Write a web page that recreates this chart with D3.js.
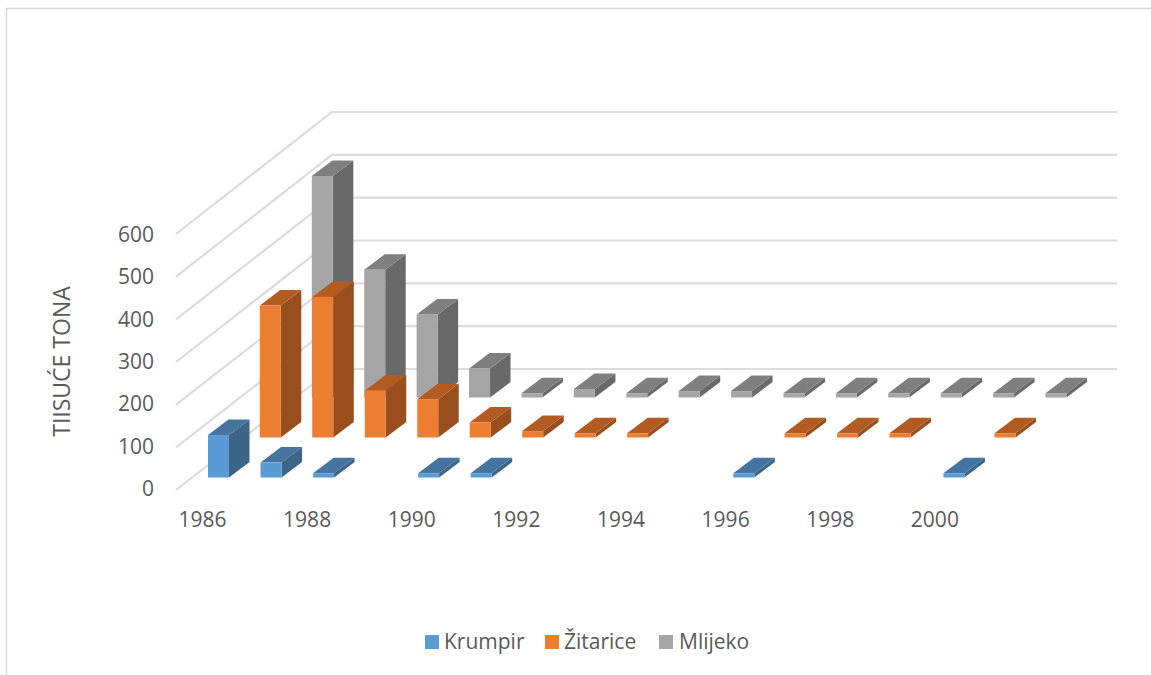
<!DOCTYPE html>
<html>
<head>
<meta charset="utf-8">
<script src="https://cdn.jsdelivr.net/npm/d3@7"></script>
<style>
html,body{margin:0;padding:0;background:#fff;}
svg{display:block;}
text{font-family:"Open Sans",sans-serif;fill:#595959;}
</style>
</head>
<body>
<svg id="chart" width="1151" height="675"></svg>
<script>
const years = [1986,1987,1988,1989,1990,1991,1992,1993,1994,1995,1996,1997,1998,1999,2000,2001,2002];
const krumpir  = [100,35,10,null,10,10,null,null,null,null,10,null,null,null,10,null,null];
const zitarice = [null,310,330,110,90,35,15,10,10,null,null,10,10,10,null,10,null];
const mlijeko  = [null,null,520,300,195,68,10,20,10,15,15,10,10,10,10,10,10];
const yTicks = [0,100,200,300,400,500,600];
const xTickLabels = [1986,1988,1990,1992,1994,1996,1998,2000];
const seriesNames = ["Krumpir","Žitarice","Mlijeko"];

const svg = d3.select("#chart");
const W = 1151, H = 675;

svg.append("path").attr("d", `M6.5,${H} V8.5 H${W}`).attr("fill","none").attr("stroke","#d9d9d9").attr("stroke-width",1.5);

const gridColor = "#dcdcdc";
const wallFrontX = 176, wallBackX = 332, wallRightX = 1117;
const yFront = d3.scaleLinear().domain([0,600]).range([490,234]);
const yBack  = d3.scaleLinear().domain([0,600]).range([369,112]);

const grid = svg.append("g").attr("fill","none").attr("stroke",gridColor).attr("stroke-width",2.2);
yTicks.forEach(t=>{
  grid.append("path").attr("d",`M${wallFrontX},${yFront(t)} L${wallBackX},${yBack(t)} L${wallRightX},${yBack(t)}`);
});

const h = d3.scaleLinear().domain([0,600]).range([0,255.6]);
const barW = 21, dx = 20.5, dy = 15.5;

// slight perspective: rows nearer the viewer spread a little wider
const seriesDefs = [
  {name:seriesNames[2], values:mlijeko,  base:397.5, range:[207,1045.5],  front:"#a5a5a5", top:"#7f7f7f", side:"#696969"},
  {name:seriesNames[1], values:zitarice, base:437.5, range:[207.3,1047],  front:"#ed7d31", top:"#b25c22", side:"#984f1d"},
  {name:seriesNames[0], values:krumpir,  base:477.5, range:[208,1048.5],  front:"#5b9bd5", top:"#44749f", side:"#3c6588"}
];

seriesDefs.forEach(s=>{
  const x = d3.scalePoint().domain(years).range(s.range);
  const g = svg.append("g");
  years.forEach((yr,i)=>{
    const v = s.values[i];
    if(v===null) return;
    const x0 = x(yr), y0 = s.base, yt = y0 - h(v);
    const b = g.append("g");
    b.append("path").attr("fill",s.side).attr("d",
      `M${x0+barW},${y0} L${x0+barW+dx},${y0-dy} L${x0+barW+dx},${yt-dy} L${x0+barW},${yt} Z`);
    b.append("path").attr("fill",s.top).attr("d",
      `M${x0},${yt} L${x0+dx},${yt-dy} L${x0+barW+dx},${yt-dy} L${x0+barW},${yt} Z`);
    b.append("rect").attr("fill",s.front).attr("x",x0).attr("y",yt).attr("width",barW).attr("height",y0-yt);
  });
});

const yAxisG = svg.append("g").attr("transform","translate(154,0)")
  .call(d3.axisLeft(d3.scaleLinear().domain([0,600]).range([489,234.5])).tickValues(yTicks).tickSize(0).tickPadding(0).tickFormat(d3.format("d")));
yAxisG.select(".domain").remove();
yAxisG.selectAll("text").style("font-family",'"Open Sans",sans-serif').style("font-size","21px").attr("fill","#595959");

const xLabelScale = d3.scalePoint().domain(years).range([202,1039]);
const xAxisG = svg.append("g").attr("transform","translate(0,512.5)")
  .call(d3.axisBottom(xLabelScale).tickValues(xTickLabels).tickSize(0).tickPadding(0).tickFormat(d3.format("d")));
xAxisG.select(".domain").remove();
xAxisG.selectAll("text").style("font-family",'"Open Sans",sans-serif').style("font-size","21px").attr("fill","#595959");

svg.append("text").attr("transform","translate(70,361.5) rotate(-90)").attr("text-anchor","middle")
  .style("font-size","23px").text("TIISUĆE TONA");

const legendDefs = [
  {name:seriesNames[0], color:"#5b9bd5", sx:425, tx:444},
  {name:seriesNames[1], color:"#ed7d31", sx:545, tx:564},
  {name:seriesNames[2], color:"#a5a5a5", sx:659, tx:679}
];
legendDefs.forEach(d=>{
  svg.append("rect").attr("x",d.sx).attr("y",635).attr("width",14).attr("height",14).attr("fill",d.color);
  svg.append("text").attr("x",d.tx).attr("y",649).style("font-size","21px").text(d.name);
});
</script>
</body>
</html>
